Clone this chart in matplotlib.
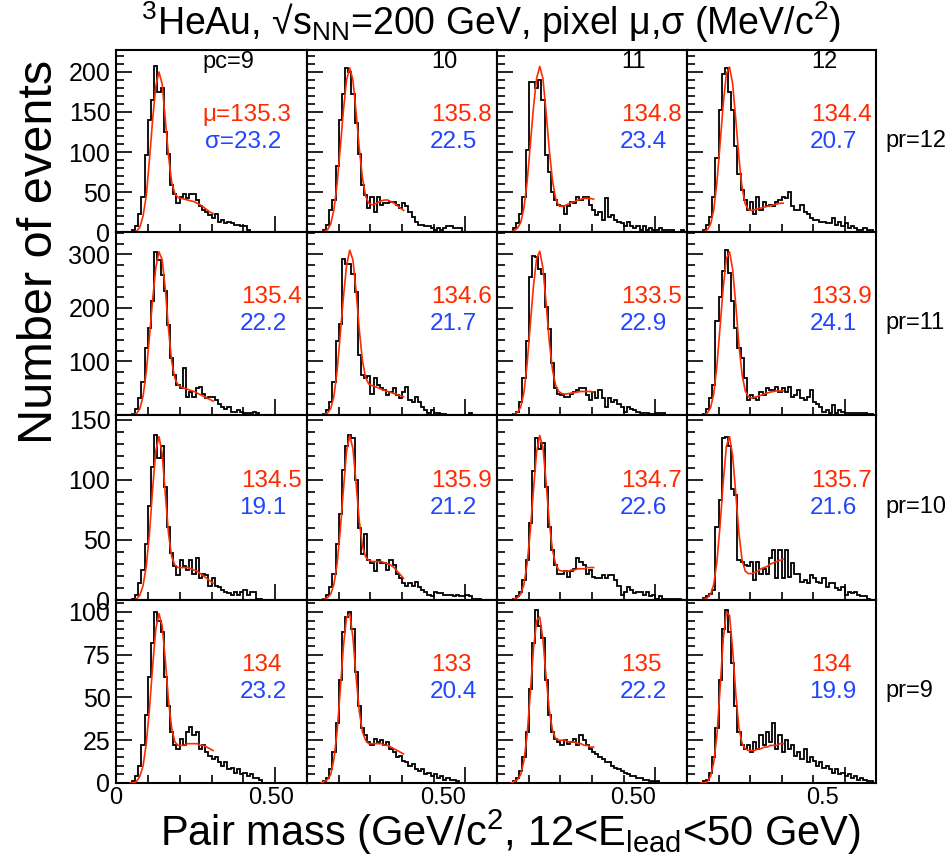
import numpy as np
import matplotlib
matplotlib.use('Agg')
import matplotlib.pyplot as plt
from matplotlib.ticker import MultipleLocator
from matplotlib.transforms import ScaledTranslation

plt.rcParams['font.family'] = ['Liberation Sans', 'DejaVu Sans']
plt.rcParams['mathtext.default'] = 'regular'

# ---------------- data ----------------
bin_edges = np.linspace(0.0, 0.6, 61)
fit_x = np.round(np.arange(0.045, 0.3051, 0.01), 3)

pc_labels = ['pc=9', '10', '11', '12']
pr_labels = ['pr=12', 'pr=11', 'pr=10', 'pr=9']

mu_pr12 = ['\u03bc=135.3', '135.8', '134.8', '134.4']
sigma_pr12 = ['\u03c3=23.2', '22.5', '23.4', '20.7']
mu_pr11 = ['135.4', '134.6', '133.5', '133.9']
sigma_pr11 = ['22.2', '21.7', '22.9', '24.1']
mu_pr10 = ['134.5', '135.9', '134.7', '135.7']
sigma_pr10 = ['19.1', '21.2', '22.6', '21.6']
mu_pr9 = ['134', '133', '135', '134']
sigma_pr9 = ['23.2', '20.4', '22.2', '19.9']

# histogram counts, 60 bins of 0.01 GeV/c^2 from 0 to 0.6
counts_pr12_pc9 = [0, 0, 0, 0, 0, 2, 7, 23, 44, 96,
                   140, 165, 207, 175, 180, 125, 98, 59, 48, 36,
                   44, 47, 42, 47, 47, 40, 32, 27, 25, 21,
                   17, 23, 13, 15, 11, 13, 11, 9, 9, 7,
                   7, 3, 0, 0, 0, 0, 0, 0, 0, 0,
                   0, 0, 0, 0, 0, 0, 0, 0, 0, 0]
counts_pr12_pc10 = [0, 0, 0, 0, 0, 2, 9, 27, 40, 82,
                    140, 173, 205, 200, 173, 136, 98, 59, 46, 30,
                    44, 25, 44, 34, 36, 36, 38, 38, 34, 30,
                    36, 32, 25, 19, 13, 9, 9, 7, 7, 5,
                    2, 5, 2, 5, 7, 7, 5, 5, 5, 0,
                    0, 0, 0, 0, 0, 0, 0, 0, 0, 0]
counts_pr12_pc11 = [0, 0, 0, 0, 0, 5, 11, 23, 44, 102,
                    188, 188, 180, 190, 165, 96, 75, 50, 40, 34,
                    32, 23, 32, 38, 36, 44, 40, 44, 44, 34,
                    27, 21, 25, 15, 42, 19, 21, 15, 13, 11,
                    7, 13, 7, 5, 7, 2, 7, 2, 5, 2,
                    2, 5, 2, 2, 2, 2, 0, 0, 2, 0]
counts_pr12_pc12 = [0, 0, 0, 0, 0, 2, 9, 19, 44, 92,
                    152, 198, 205, 175, 152, 107, 73, 52, 40, 27,
                    38, 23, 44, 27, 38, 32, 34, 32, 38, 40,
                    44, 42, 50, 32, 27, 27, 34, 25, 23, 17,
                    15, 15, 13, 13, 11, 11, 17, 9, 13, 7,
                    11, 5, 7, 5, 2, 2, 5, 2, 2, 0]
counts_pr11_pc9 = [0, 0, 0, 0, 0, 2, 12, 31, 62, 125,
                   163, 213, 304, 290, 262, 232, 169, 106, 75, 56,
                   50, 87, 34, 43, 34, 50, 53, 40, 31, 34,
                   34, 28, 21, 15, 12, 15, 6, 6, 9, 6,
                   3, 3, 3, 6, 3, 0, 0, 0, 0, 0,
                   0, 0, 0, 0, 0, 0, 0, 0, 0, 0]
counts_pr11_pc10 = [0, 0, 0, 0, 0, 2, 9, 24, 62, 138,
                    170, 292, 282, 282, 264, 229, 113, 75, 69, 72,
                    40, 69, 56, 50, 47, 37, 43, 50, 37, 31,
                    43, 53, 28, 24, 34, 24, 15, 9, 3, 9,
                    3, 3, 2, 2, 0, 0, 0, 0, 0, 0,
                    0, 3, 0, 0, 0, 0, 0, 0, 0, 0]
counts_pr11_pc11 = [0, 0, 0, 0, 0, 1, 6, 24, 69, 138,
                    257, 298, 295, 273, 264, 201, 160, 97, 50, 40,
                    37, 34, 34, 40, 43, 47, 50, 50, 37, 28,
                    43, 31, 47, 31, 15, 31, 24, 28, 21, 15,
                    6, 15, 12, 9, 6, 3, 3, 3, 1, 1,
                    3, 3, 3, 0, 0, 0, 0, 0, 0, 0]
counts_pr11_pc12 = [0, 0, 0, 0, 0, 1, 12, 31, 56, 176,
                    220, 270, 308, 265, 213, 163, 125, 106, 69, 28,
                    37, 31, 28, 43, 37, 50, 47, 47, 53, 43,
                    50, 43, 53, 34, 37, 47, 31, 28, 34, 47,
                    24, 21, 15, 6, 9, 3, 18, 3, 9, 6,
                    3, 3, 3, 3, 3, 3, 3, 2, 2, 0]
counts_pr10_pc9 = [0, 0, 0, 0, 0, 1, 4, 14, 25, 47,
                   78, 111, 137, 118, 128, 94, 61, 39, 28, 21,
                   33, 28, 25, 33, 22, 35, 18, 22, 21, 12,
                   18, 12, 11, 8, 7, 6, 4, 7, 4, 7,
                   8, 4, 7, 7, 1, 1, 0, 0, 0, 0,
                   0, 0, 0, 0, 0, 0, 0, 0, 0, 0]
counts_pr10_pc10 = [0, 0, 0, 0, 0, 1, 4, 11, 22, 47,
                    72, 108, 128, 137, 135, 100, 60, 38, 55, 33,
                    31, 24, 33, 31, 31, 25, 33, 29, 22, 18,
                    14, 12, 14, 12, 15, 11, 8, 7, 4, 3,
                    7, 6, 6, 4, 4, 4, 3, 4, 3, 3,
                    4, 3, 1, 1, 1, 0, 0, 0, 0, 0]
counts_pr10_pc11 = [0, 0, 0, 0, 0, 1, 3, 7, 17, 33,
                    64, 107, 135, 126, 131, 94, 61, 42, 29, 22,
                    22, 24, 19, 24, 26, 35, 32, 29, 22, 25,
                    19, 18, 18, 21, 18, 21, 21, 17, 12, 4,
                    7, 11, 8, 6, 7, 7, 4, 7, 3, 4,
                    1, 3, 1, 1, 1, 1, 1, 1, 0, 0]
counts_pr10_pc12 = [0, 0, 0, 0, 0, 2, 3, 5, 8, 61,
                    83, 135, 136, 128, 92, 87, 33, 32, 29, 28,
                    32, 17, 32, 22, 26, 22, 35, 42, 18, 42,
                    18, 42, 19, 31, 22, 22, 15, 17, 14, 21,
                    18, 15, 14, 18, 11, 14, 14, 10, 8, 11,
                    4, 7, 6, 7, 4, 3, 3, 1, 0, 0]
counts_pr9_pc9 = [0, 0, 0, 0, 0, 1, 4, 10, 22, 40,
                  62, 82, 100, 95, 88, 62, 45, 30, 22, 20,
                  26, 22, 30, 33, 28, 30, 20, 22, 18, 16,
                  14, 15, 12, 10, 12, 8, 9, 6, 8, 5,
                  6, 4, 5, 3, 3, 2, 0, 0, 0, 0,
                  0, 0, 0, 0, 0, 0, 0, 0, 0, 0]
counts_pr9_pc10 = [0, 0, 0, 0, 0, 1, 3, 8, 18, 35,
                   60, 88, 97, 100, 90, 65, 45, 32, 28, 24,
                   22, 26, 24, 25, 22, 24, 20, 18, 15, 16,
                   13, 12, 10, 11, 8, 7, 8, 5, 6, 4,
                   5, 3, 4, 2, 3, 2, 2, 1, 0, 0,
                   0, 0, 0, 0, 0, 0, 0, 0, 0, 0]
counts_pr9_pc11 = [0, 0, 0, 0, 0, 1, 3, 7, 15, 30,
                   55, 82, 101, 92, 85, 60, 40, 30, 26, 24,
                   22, 25, 23, 24, 26, 22, 28, 25, 22, 20,
                   18, 17, 15, 14, 12, 12, 10, 9, 8, 7,
                   6, 5, 4, 4, 3, 3, 2, 2, 1, 1,
                   1, 0, 0, 0, 0, 0, 0, 0, 0, 0]
counts_pr9_pc12 = [0, 0, 0, 0, 0, 1, 2, 6, 15, 32,
                   60, 90, 101, 88, 70, 45, 30, 22, 20, 22,
                   18, 24, 20, 28, 22, 30, 24, 35, 20, 28,
                   18, 25, 20, 22, 16, 18, 14, 20, 12, 15,
                   13, 10, 12, 9, 10, 8, 6, 8, 5, 6,
                   4, 5, 3, 4, 2, 3, 2, 1, 1, 0]

# fit curves sampled at fit_x
fit_pr12_pc9 = [0, 0, 1, 6, 20, 45, 90, 140, 182, 200, 185, 140, 95, 62, 48, 43, 42, 41, 40, 39, 38, 36, 34, 31, 28, 25, 23]
fit_pr12_pc10 = [0, 1, 3, 10, 28, 60, 105, 152, 190, 205, 190, 150, 105, 68, 45, 36, 34, 35, 37, 39, 40, 40, 38, 36, 33, 30, 27]
fit_pr12_pc11 = [0, 2, 5, 12, 30, 62, 108, 155, 192, 207, 192, 150, 103, 65, 42, 33, 32, 33, 35, 37, 38, 40, 41, 42, 42, 42, 41]
fit_pr12_pc12 = [0, 1, 3, 10, 28, 62, 110, 160, 198, 206, 185, 140, 92, 55, 35, 28, 27, 28, 29, 30, 31, 32, 33, 34, 35, 36, 36]
fit_pr11_pc9 = [0, 1, 3, 12, 35, 80, 145, 215, 275, 305, 290, 235, 160, 100, 68, 56, 52, 50, 48, 46, 44, 41, 38, 35, 32, 29, 26]
fit_pr11_pc10 = [0, 1, 4, 12, 35, 82, 150, 220, 280, 308, 290, 232, 160, 102, 70, 58, 55, 53, 51, 48, 46, 44, 42, 40, 38, 36, 34]
fit_pr11_pc11 = [0, 2, 5, 15, 42, 95, 168, 240, 292, 306, 275, 210, 138, 85, 56, 44, 40, 39, 40, 41, 42, 43, 44, 44, 44, 44, 43]
fit_pr11_pc12 = [0, 1, 4, 14, 40, 92, 165, 238, 292, 305, 272, 205, 130, 75, 45, 34, 32, 33, 35, 37, 39, 41, 43, 44, 45, 45, 45]
fit_pr10_pc9 = [0, 0, 1, 4, 12, 28, 55, 92, 124, 136, 122, 88, 55, 36, 29, 27, 27, 27, 27, 26, 25, 24, 22, 20, 18, 16, 14]
fit_pr10_pc10 = [0, 1, 2, 5, 13, 30, 58, 92, 124, 137, 126, 97, 66, 45, 36, 33, 32, 32, 32, 32, 31, 30, 29, 27, 24, 21, 18]
fit_pr10_pc11 = [0, 1, 2, 5, 13, 30, 57, 91, 123, 137, 127, 98, 65, 42, 30, 25, 24, 24, 24, 25, 25, 26, 26, 26, 27, 27, 27]
fit_pr10_pc12 = [0, 1, 2, 5, 13, 32, 62, 98, 128, 136, 120, 88, 55, 33, 24, 22, 22, 23, 24, 26, 27, 28, 30, 31, 32, 33, 34]
fit_pr9_pc9 = [0, 0, 1, 4, 10, 23, 43, 68, 90, 99, 92, 72, 48, 32, 24, 22, 22, 22, 23, 23, 23, 23, 22, 22, 21, 20, 19]
fit_pr9_pc10 = [0, 1, 2, 5, 14, 30, 54, 80, 97, 99, 85, 62, 42, 30, 25, 23, 23, 23, 23, 23, 22, 22, 21, 20, 19, 18, 17]
fit_pr9_pc11 = [0, 1, 2, 5, 13, 28, 52, 78, 95, 97, 84, 62, 43, 31, 26, 25, 25, 25, 24, 24, 24, 23, 23, 22, 22, 21, 21]
fit_pr9_pc12 = [0, 0, 1, 4, 12, 28, 55, 84, 100, 98, 78, 52, 32, 23, 20, 19, 19, 19, 20, 20, 21, 21, 22, 22, 22, 23, 23]

y_max_rows = [227.5, 342, 154, 107]
y_major_rows = [50, 100, 50, 25]
y_minor_rows = [10, 20, 10, 5]
y_ticklabels_rows = [[0, 50, 100, 150, 200], [100, 200, 300], [0, 50, 100, 150], [0, 25, 50, 75, 100]]
x_ticks_cols = [[0, 0.5], [0.5], [0.5], [0.5]]
x_ticklabels_cols = [['0', '0.50'], ['0.50'], ['0.50'], ['0.5']]

counts_grid = [[counts_pr12_pc9, counts_pr12_pc10, counts_pr12_pc11, counts_pr12_pc12],
               [counts_pr11_pc9, counts_pr11_pc10, counts_pr11_pc11, counts_pr11_pc12],
               [counts_pr10_pc9, counts_pr10_pc10, counts_pr10_pc11, counts_pr10_pc12],
               [counts_pr9_pc9, counts_pr9_pc10, counts_pr9_pc11, counts_pr9_pc12]]
fit_grid = [[fit_pr12_pc9, fit_pr12_pc10, fit_pr12_pc11, fit_pr12_pc12],
            [fit_pr11_pc9, fit_pr11_pc10, fit_pr11_pc11, fit_pr11_pc12],
            [fit_pr10_pc9, fit_pr10_pc10, fit_pr10_pc11, fit_pr10_pc12],
            [fit_pr9_pc9, fit_pr9_pc10, fit_pr9_pc11, fit_pr9_pc12]]
mu_grid = [mu_pr12, mu_pr11, mu_pr10, mu_pr9]
sigma_grid = [sigma_pr12, sigma_pr11, sigma_pr10, sigma_pr9]

# ---------------- layout ----------------
W, H = 949, 858
fig = plt.figure(figsize=(W / 100, H / 100), dpi=100)
fig.patch.set_facecolor('white')

col_left = [116, 307, 497, 687]
col_w = [191, 190, 190, 189]
row_top = [50, 232, 415, 600]
row_bot = [232, 415, 600, 783]

RED = '#ff2a00'
BLUE = '#1f45ff'

for r in range(4):
    for c in range(4):
        ax = fig.add_axes([col_left[c] / W, 1 - row_bot[r] / H,
                           col_w[c] / W, (row_bot[r] - row_top[r]) / H])
        ax.set_xlim(0, 0.6)
        ax.set_ylim(0, y_max_rows[r])
        ax.stairs(counts_grid[r][c], bin_edges, color='black', linewidth=1.3, zorder=2)
        ax.plot(fit_x, fit_grid[r][c], color=RED, linewidth=1.2, zorder=3)
        for s in ax.spines.values():
            s.set_linewidth(1.5)
        ax.tick_params(which='major', direction='in', length=11.5, width=1.2,
                       top=False, right=False, labelsize=18, pad=4)
        ax.tick_params(which='minor', direction='in', length=6, width=1.2,
                       top=False, right=False)
        ax.set_xticks(x_ticks_cols[c])
        ax.xaxis.set_minor_locator(MultipleLocator(0.1))
        ax.set_yticks(y_ticklabels_rows[r] if c == 0 else
                      list(np.arange(0, y_max_rows[r], y_major_rows[r])))
        ax.yaxis.set_minor_locator(MultipleLocator(y_minor_rows[r]))
        if c == 0:
            ax.set_yticklabels([str(v) for v in y_ticklabels_rows[r]])
        else:
            ax.tick_params(labelleft=False)
        if r == 3:
            ax.set_xticklabels(x_ticklabels_cols[c])
            ax.tick_params(axis='x', labelsize=17, pad=3)
            shift = -4 if c == 0 else -22
            for lab, txt in zip(ax.get_xticklabels(), x_ticklabels_cols[c]):
                if txt != '0':
                    lab.set_transform(lab.get_transform() +
                                      ScaledTranslation(shift / 100, 0, fig.dpi_scale_trans))
        else:
            ax.tick_params(labelbottom=False)

        xl = 0.453 if (r == 0 and c == 0) else 0.655
        if r == 0:
            ax.text(xl, 0.934, pc_labels[c], transform=ax.transAxes, ha='left',
                    va='center', fontsize=17, color='black')
        ax.text(xl, 0.645, mu_grid[r][c], transform=ax.transAxes, ha='left',
                va='center', fontsize=17.5, color=RED)
        ax.text(xl + (0.015 if (r == 0 and c == 0) else -0.008), 0.495, sigma_grid[r][c],
                transform=ax.transAxes, ha='left', va='center', fontsize=17.5, color=BLUE)

    fig.text(885 / W, 1 - (row_top[r] + row_bot[r]) / 2 / H, pr_labels[r],
             ha='left', va='center', fontsize=17)

fig.text(491 / W, 1 - 22 / H,
         '$^{3}$HeAu, \u221as$_{NN}$=200 GeV, pixel \u03bc,\u03c3 (MeV/c$^{2}$)',
         ha='center', va='center', fontsize=27)
fig.text(40 / W, 1 - 252 / H, 'Number of events', rotation=90,
         ha='center', va='center', fontsize=35)
fig.text(510 / W, 1 - 832 / H,
         'Pair mass (GeV/c$^{2}$, 12<E$_{lead}$<50 GeV)',
         ha='center', va='center', fontsize=30)

fig.savefig('out.png', dpi=100, facecolor='white')
